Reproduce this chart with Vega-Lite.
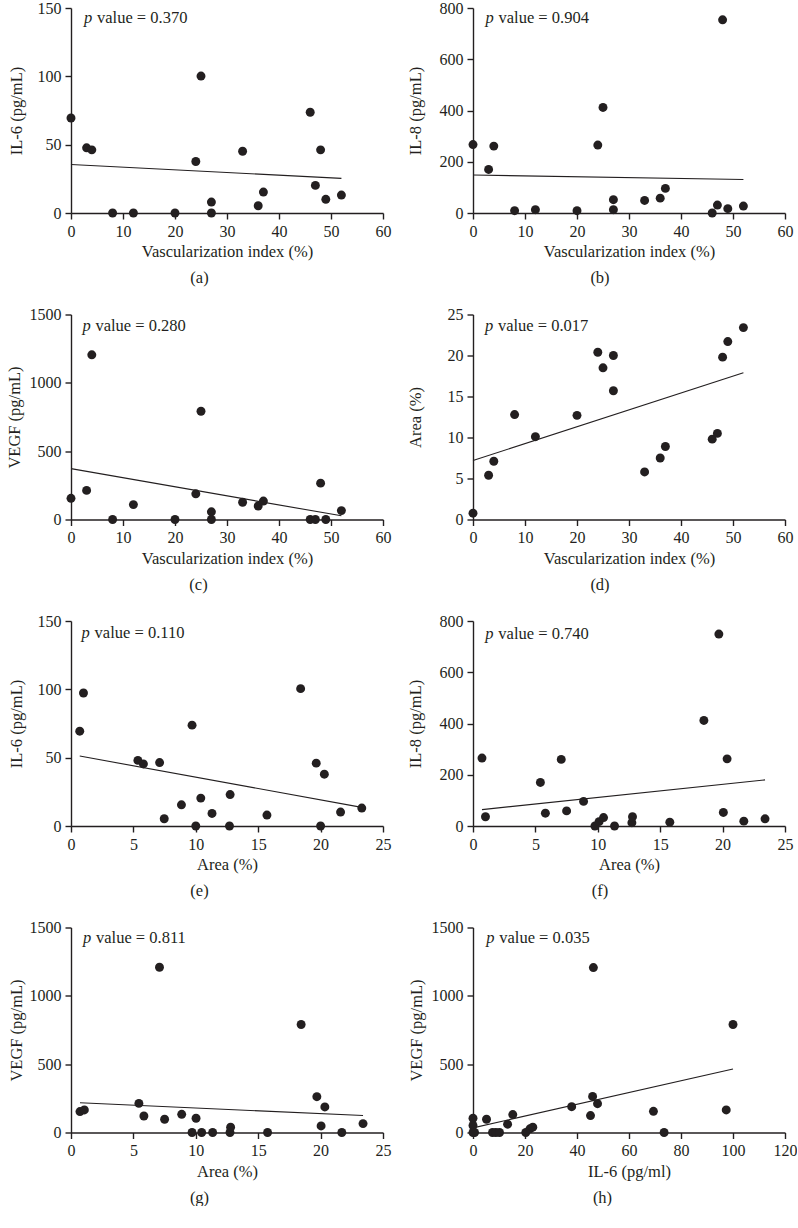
{
  "$schema": "https://vega.github.io/schema/vega-lite/v6.json",
  "background": "white",
  "padding": {"left": 6, "top": 0, "right": 0, "bottom": 0},
  "config": {
    "view": {"stroke": null},
    "font": "Liberation Serif",
    "axis": {
      "grid": false, "format": "d",
      "domainColor": "#231f20", "domainWidth": 1.4,
      "tickColor": "#231f20", "tickWidth": 1.4, "tickSize": 6,
      "labelFont": "Liberation Serif", "labelFontSize": 16, "labelColor": "#231f20", "labelPadding": 4,
      "titleFont": "Liberation Serif", "titleFontSize": 16.5, "titleFontWeight": "normal", "titleColor": "#231f20"
    },
    "axisX": {"titlePadding": 4.5, "labelFlush": false},
    "title": {"orient": "bottom", "anchor": "middle", "frame": "bounds", "font": "Liberation Serif", "fontSize": 16.5, "fontWeight": "normal", "color": "#231f20", "offset": 10},
    "circle": {"size": 80, "opacity": 1, "color": "#231f20"},
    "line": {"color": "#231f20", "strokeWidth": 1.1},
    "text": {"font": "Liberation Serif", "fontSize": 16.5, "color": "#231f20", "align": "left", "baseline": "alphabetic"}
  },
  "spacing": {"row": 19.5, "column": 16},
  "datasets": {
    "a": [{"x":0,"y":69.5},{"x":3,"y":47.7},{"x":4,"y":46.2},{"x":8,"y":0},{"x":12,"y":0},{"x":20,"y":0},{"x":24,"y":37.7},{"x":25,"y":100.2},{"x":27,"y":8},{"x":27,"y":0},{"x":33,"y":45.2},{"x":36,"y":5.3},{"x":37,"y":15.3},{"x":46,"y":73.7},{"x":47,"y":20.2},{"x":48,"y":46.2},{"x":49,"y":10},{"x":52,"y":13.1}],
    "a_fit": [{"x":0,"y":35.5},{"x":52,"y":25.3}],
    "b": [{"x":0,"y":267},{"x":3,"y":170},{"x":4,"y":261},{"x":8,"y":9},{"x":12,"y":13},{"x":20,"y":9},{"x":24,"y":265},{"x":25,"y":412},{"x":27,"y":52},{"x":27,"y":13},{"x":33,"y":49},{"x":36,"y":58},{"x":37,"y":96},{"x":46,"y":0},{"x":47,"y":31},{"x":48,"y":754},{"x":49,"y":17},{"x":52,"y":27}],
    "b_fit": [{"x":0,"y":148},{"x":52,"y":131}],
    "c": [{"x":0,"y":155},{"x":3,"y":213},{"x":4,"y":1205},{"x":8,"y":0},{"x":12,"y":109},{"x":20,"y":0},{"x":24,"y":188},{"x":25,"y":792},{"x":27,"y":56},{"x":27,"y":0},{"x":33,"y":126},{"x":36,"y":99},{"x":37,"y":135},{"x":46,"y":0},{"x":47,"y":0},{"x":48,"y":266},{"x":49,"y":0},{"x":52,"y":65}],
    "c_fit": [{"x":0,"y":372},{"x":52,"y":27}],
    "d": [{"x":0,"y":0.77},{"x":3,"y":5.4},{"x":4,"y":7.1},{"x":8,"y":12.8},{"x":12,"y":10.1},{"x":20,"y":12.7},{"x":24,"y":20.4},{"x":25,"y":18.5},{"x":27,"y":20.0},{"x":27,"y":15.7},{"x":33,"y":5.8},{"x":36,"y":7.5},{"x":37,"y":8.9},{"x":46,"y":9.8},{"x":47,"y":10.5},{"x":48,"y":19.8},{"x":49,"y":21.7},{"x":52,"y":23.4}],
    "d_fit": [{"x":0,"y":7.2},{"x":52,"y":17.9}],
    "e": [{"x":0.7,"y":69.4},{"x":1.0,"y":97.3},{"x":5.36,"y":48},{"x":5.8,"y":45.4},{"x":7.1,"y":46.4},{"x":7.47,"y":5.3},{"x":8.85,"y":15.5},{"x":9.7,"y":73.8},{"x":10.0,"y":0},{"x":10.4,"y":20.4},{"x":11.3,"y":9.2},{"x":12.7,"y":0},{"x":12.75,"y":23},{"x":15.7,"y":8},{"x":18.4,"y":100.5},{"x":19.65,"y":46},{"x":20.0,"y":0},{"x":20.3,"y":37.9},{"x":21.6,"y":10.2},{"x":23.3,"y":13.1}],
    "e_fit": [{"x":0.7,"y":51.2},{"x":23.3,"y":13.6}],
    "f": [{"x":0.72,"y":265},{"x":1.0,"y":36},{"x":5.4,"y":170},{"x":5.8,"y":50},{"x":7.07,"y":260},{"x":7.5,"y":59},{"x":8.86,"y":96},{"x":9.77,"y":0},{"x":10.1,"y":17},{"x":10.46,"y":33},{"x":11.34,"y":0},{"x":12.73,"y":13},{"x":12.78,"y":36},{"x":15.77,"y":15},{"x":18.5,"y":412},{"x":19.7,"y":749},{"x":20.06,"y":53},{"x":20.36,"y":262},{"x":21.7,"y":19},{"x":23.4,"y":28}],
    "f_fit": [{"x":0.72,"y":64},{"x":23.4,"y":180}],
    "g": [{"x":0.72,"y":153},{"x":1.07,"y":165},{"x":5.44,"y":213},{"x":5.84,"y":121},{"x":7.5,"y":97},{"x":7.09,"y":1209},{"x":8.87,"y":133},{"x":9.7,"y":0},{"x":10.02,"y":104},{"x":10.47,"y":0},{"x":11.35,"y":0},{"x":12.74,"y":0},{"x":12.79,"y":39},{"x":15.75,"y":0},{"x":18.44,"y":790},{"x":19.7,"y":262},{"x":20.04,"y":48},{"x":20.34,"y":187},{"x":21.7,"y":0},{"x":23.4,"y":65}],
    "g_fit": [{"x":0.72,"y":218},{"x":23.4,"y":124}],
    "h": [{"x":0,"y":104},{"x":0,"y":51},{"x":0,"y":0},{"x":0.6,"y":0},{"x":5.2,"y":97},{"x":7.5,"y":0},{"x":8.8,"y":0},{"x":10.2,"y":0},{"x":13.3,"y":61},{"x":15.3,"y":131},{"x":20.3,"y":0},{"x":21.9,"y":27},{"x":23,"y":39},{"x":37.95,"y":189},{"x":45.2,"y":124},{"x":46,"y":264},{"x":46.3,"y":1207},{"x":47.9,"y":211},{"x":69.4,"y":155},{"x":73.5,"y":0},{"x":97.4,"y":165},{"x":100,"y":790}],
    "h_fit": [{"x":0,"y":34},{"x":100,"y":465}]
  },
  "columns": 2,
  "concat": [
    {
      "width": 312, "height": 205, "title": "(a)",
      "layer": [
        {"data": {"name": "a_fit"}, "mark": "line", "encoding": {
          "x": {"field": "x", "type": "quantitative", "scale": {"domain": [0, 60], "nice": false}, "axis": {"values": [0,10,20,30,40,50,60], "title": "Vascularization index (%)"}},
          "y": {"field": "y", "type": "quantitative", "scale": {"domain": [0, 150], "nice": false}, "axis": {"values": [0,50,100,150], "title": "IL-6 (pg/mL)", "titlePadding": 13}}}},
        {"data": {"name": "a"}, "mark": "circle", "encoding": {
          "x": {"field": "x", "type": "quantitative", "scale": {"domain": [0, 60], "nice": false}, "axis": {"values": [0,10,20,30,40,50,60], "title": "Vascularization index (%)"}},
          "y": {"field": "y", "type": "quantitative", "scale": {"domain": [0, 150], "nice": false}, "axis": {"values": [0,50,100,150], "title": "IL-6 (pg/mL)", "titlePadding": 13}}}},
        {"data": {"values": [{}]}, "mark": {"type": "text", "fontStyle": "italic", "text": "p"}, "encoding": {"x": {"datum": 2.5, "type": "quantitative"}, "y": {"datum": 139, "type": "quantitative"}}},
        {"data": {"values": [{}]}, "mark": {"type": "text", "dx": 13, "text": "value = 0.370"}, "encoding": {"x": {"datum": 2.5, "type": "quantitative"}, "y": {"datum": 139, "type": "quantitative"}}}
      ]
    },
    {
      "width": 312, "height": 205, "title": "(b)",
      "layer": [
        {"data": {"name": "b_fit"}, "mark": "line", "encoding": {
          "x": {"field": "x", "type": "quantitative", "scale": {"domain": [0, 60], "nice": false}, "axis": {"values": [0,10,20,30,40,50,60], "title": "Vascularization index (%)"}},
          "y": {"field": "y", "type": "quantitative", "scale": {"domain": [0, 800], "nice": false}, "axis": {"values": [0,200,400,600,800], "title": "IL-8 (pg/mL)", "titlePadding": 16}}}},
        {"data": {"name": "b"}, "mark": "circle", "encoding": {
          "x": {"field": "x", "type": "quantitative", "scale": {"domain": [0, 60], "nice": false}, "axis": {"values": [0,10,20,30,40,50,60], "title": "Vascularization index (%)"}},
          "y": {"field": "y", "type": "quantitative", "scale": {"domain": [0, 800], "nice": false}, "axis": {"values": [0,200,400,600,800], "title": "IL-8 (pg/mL)", "titlePadding": 16}}}},
        {"data": {"values": [{}]}, "mark": {"type": "text", "fontStyle": "italic", "text": "p"}, "encoding": {"x": {"datum": 2.4, "type": "quantitative"}, "y": {"datum": 742, "type": "quantitative"}}},
        {"data": {"values": [{}]}, "mark": {"type": "text", "dx": 13, "text": "value = 0.904"}, "encoding": {"x": {"datum": 2.4, "type": "quantitative"}, "y": {"datum": 742, "type": "quantitative"}}}
      ]
    },
    {
      "width": 312, "height": 205, "title": "(c)",
      "layer": [
        {"data": {"name": "c_fit"}, "mark": "line", "encoding": {
          "x": {"field": "x", "type": "quantitative", "scale": {"domain": [0, 60], "nice": false}, "axis": {"values": [0,10,20,30,40,50,60], "title": "Vascularization index (%)"}},
          "y": {"field": "y", "type": "quantitative", "scale": {"domain": [0, 1500], "nice": false}, "axis": {"values": [0,500,1000,1500], "title": "VEGF (pg/mL)", "titlePadding": 7}}}},
        {"data": {"name": "c"}, "mark": "circle", "encoding": {
          "x": {"field": "x", "type": "quantitative", "scale": {"domain": [0, 60], "nice": false}, "axis": {"values": [0,10,20,30,40,50,60], "title": "Vascularization index (%)"}},
          "y": {"field": "y", "type": "quantitative", "scale": {"domain": [0, 1500], "nice": false}, "axis": {"values": [0,500,1000,1500], "title": "VEGF (pg/mL)", "titlePadding": 7}}}},
        {"data": {"values": [{}]}, "mark": {"type": "text", "fontStyle": "italic", "text": "p"}, "encoding": {"x": {"datum": 2.2, "type": "quantitative"}, "y": {"datum": 1382, "type": "quantitative"}}},
        {"data": {"values": [{}]}, "mark": {"type": "text", "dx": 13, "text": "value = 0.280"}, "encoding": {"x": {"datum": 2.2, "type": "quantitative"}, "y": {"datum": 1382, "type": "quantitative"}}}
      ]
    },
    {
      "width": 312, "height": 205, "title": "(d)",
      "layer": [
        {"data": {"name": "d_fit"}, "mark": "line", "encoding": {
          "x": {"field": "x", "type": "quantitative", "scale": {"domain": [0, 60], "nice": false}, "axis": {"values": [0,10,20,30,40,50,60], "title": "Vascularization index (%)"}},
          "y": {"field": "y", "type": "quantitative", "scale": {"domain": [0, 25], "nice": false}, "axis": {"values": [0,5,10,15,20,25], "title": "Area (%)", "titlePadding": 24}}}},
        {"data": {"name": "d"}, "mark": "circle", "encoding": {
          "x": {"field": "x", "type": "quantitative", "scale": {"domain": [0, 60], "nice": false}, "axis": {"values": [0,10,20,30,40,50,60], "title": "Vascularization index (%)"}},
          "y": {"field": "y", "type": "quantitative", "scale": {"domain": [0, 25], "nice": false}, "axis": {"values": [0,5,10,15,20,25], "title": "Area (%)", "titlePadding": 24}}}},
        {"data": {"values": [{}]}, "mark": {"type": "text", "fontStyle": "italic", "text": "p"}, "encoding": {"x": {"datum": 2.3, "type": "quantitative"}, "y": {"datum": 23.0, "type": "quantitative"}}},
        {"data": {"values": [{}]}, "mark": {"type": "text", "dx": 13, "text": "value = 0.017"}, "encoding": {"x": {"datum": 2.3, "type": "quantitative"}, "y": {"datum": 23.0, "type": "quantitative"}}}
      ]
    },
    {
      "width": 312, "height": 205, "title": "(e)",
      "layer": [
        {"data": {"name": "e_fit"}, "mark": "line", "encoding": {
          "x": {"field": "x", "type": "quantitative", "scale": {"domain": [0, 25], "nice": false}, "axis": {"values": [0,5,10,15,20,25], "title": "Area (%)"}},
          "y": {"field": "y", "type": "quantitative", "scale": {"domain": [0, 150], "nice": false}, "axis": {"values": [0,50,100,150], "title": "IL-6 (pg/mL)", "titlePadding": 13}}}},
        {"data": {"name": "e"}, "mark": "circle", "encoding": {
          "x": {"field": "x", "type": "quantitative", "scale": {"domain": [0, 25], "nice": false}, "axis": {"values": [0,5,10,15,20,25], "title": "Area (%)"}},
          "y": {"field": "y", "type": "quantitative", "scale": {"domain": [0, 150], "nice": false}, "axis": {"values": [0,50,100,150], "title": "IL-6 (pg/mL)", "titlePadding": 13}}}},
        {"data": {"values": [{}]}, "mark": {"type": "text", "fontStyle": "italic", "text": "p"}, "encoding": {"x": {"datum": 0.85, "type": "quantitative"}, "y": {"datum": 137.6, "type": "quantitative"}}},
        {"data": {"values": [{}]}, "mark": {"type": "text", "dx": 13, "text": "value = 0.110"}, "encoding": {"x": {"datum": 0.85, "type": "quantitative"}, "y": {"datum": 137.6, "type": "quantitative"}}}
      ]
    },
    {
      "width": 312, "height": 205, "title": "(f)",
      "layer": [
        {"data": {"name": "f_fit"}, "mark": "line", "encoding": {
          "x": {"field": "x", "type": "quantitative", "scale": {"domain": [0, 25], "nice": false}, "axis": {"values": [0,5,10,15,20,25], "title": "Area (%)"}},
          "y": {"field": "y", "type": "quantitative", "scale": {"domain": [0, 800], "nice": false}, "axis": {"values": [0,200,400,600,800], "title": "IL-8 (pg/mL)", "titlePadding": 16}}}},
        {"data": {"name": "f"}, "mark": "circle", "encoding": {
          "x": {"field": "x", "type": "quantitative", "scale": {"domain": [0, 25], "nice": false}, "axis": {"values": [0,5,10,15,20,25], "title": "Area (%)"}},
          "y": {"field": "y", "type": "quantitative", "scale": {"domain": [0, 800], "nice": false}, "axis": {"values": [0,200,400,600,800], "title": "IL-8 (pg/mL)", "titlePadding": 16}}}},
        {"data": {"values": [{}]}, "mark": {"type": "text", "fontStyle": "italic", "text": "p"}, "encoding": {"x": {"datum": 0.99, "type": "quantitative"}, "y": {"datum": 729, "type": "quantitative"}}},
        {"data": {"values": [{}]}, "mark": {"type": "text", "dx": 13, "text": "value = 0.740"}, "encoding": {"x": {"datum": 0.99, "type": "quantitative"}, "y": {"datum": 729, "type": "quantitative"}}}
      ]
    },
    {
      "width": 312, "height": 205, "title": "(g)",
      "layer": [
        {"data": {"name": "g_fit"}, "mark": "line", "encoding": {
          "x": {"field": "x", "type": "quantitative", "scale": {"domain": [0, 25], "nice": false}, "axis": {"values": [0,5,10,15,20,25], "title": "Area (%)"}},
          "y": {"field": "y", "type": "quantitative", "scale": {"domain": [0, 1500], "nice": false}, "axis": {"values": [0,500,1000,1500], "title": "VEGF (pg/mL)", "titlePadding": 5}}}},
        {"data": {"name": "g"}, "mark": "circle", "encoding": {
          "x": {"field": "x", "type": "quantitative", "scale": {"domain": [0, 25], "nice": false}, "axis": {"values": [0,5,10,15,20,25], "title": "Area (%)"}},
          "y": {"field": "y", "type": "quantitative", "scale": {"domain": [0, 1500], "nice": false}, "axis": {"values": [0,500,1000,1500], "title": "VEGF (pg/mL)", "titlePadding": 5}}}},
        {"data": {"values": [{}]}, "mark": {"type": "text", "fontStyle": "italic", "text": "p"}, "encoding": {"x": {"datum": 0.96, "type": "quantitative"}, "y": {"datum": 1383, "type": "quantitative"}}},
        {"data": {"values": [{}]}, "mark": {"type": "text", "dx": 13, "text": "value = 0.811"}, "encoding": {"x": {"datum": 0.96, "type": "quantitative"}, "y": {"datum": 1383, "type": "quantitative"}}}
      ]
    },
    {
      "width": 312, "height": 205, "title": "(h)",
      "layer": [
        {"data": {"name": "h_fit"}, "mark": "line", "encoding": {
          "x": {"field": "x", "type": "quantitative", "scale": {"domain": [0, 120], "nice": false}, "axis": {"values": [0,20,40,60,80,100,120], "title": "IL-6 (pg/ml)"}},
          "y": {"field": "y", "type": "quantitative", "scale": {"domain": [0, 1500], "nice": false}, "axis": {"values": [0,500,1000,1500], "title": "VEGF (pg/mL)", "titlePadding": 7}}}},
        {"data": {"name": "h"}, "mark": "circle", "encoding": {
          "x": {"field": "x", "type": "quantitative", "scale": {"domain": [0, 120], "nice": false}, "axis": {"values": [0,20,40,60,80,100,120], "title": "IL-6 (pg/ml)"}},
          "y": {"field": "y", "type": "quantitative", "scale": {"domain": [0, 1500], "nice": false}, "axis": {"values": [0,500,1000,1500], "title": "VEGF (pg/mL)", "titlePadding": 7}}}},
        {"data": {"values": [{}]}, "mark": {"type": "text", "fontStyle": "italic", "text": "p"}, "encoding": {"x": {"datum": 5.1, "type": "quantitative"}, "y": {"datum": 1383, "type": "quantitative"}}},
        {"data": {"values": [{}]}, "mark": {"type": "text", "dx": 13, "text": "value = 0.035"}, "encoding": {"x": {"datum": 5.1, "type": "quantitative"}, "y": {"datum": 1383, "type": "quantitative"}}}
      ]
    }
  ]
}
